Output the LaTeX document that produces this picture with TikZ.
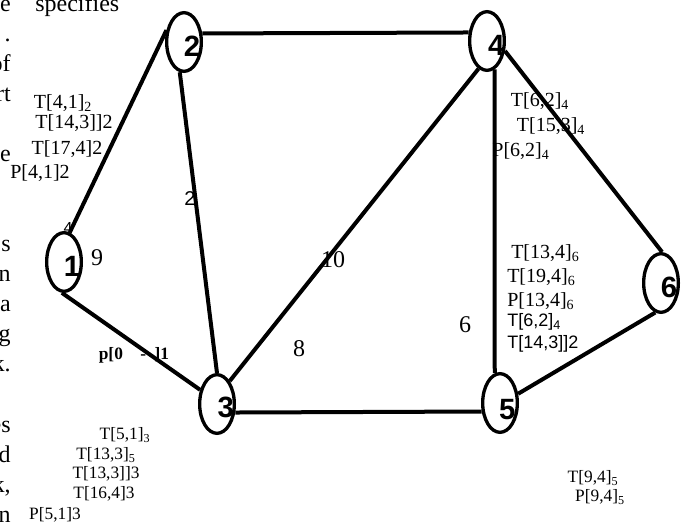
\documentclass[tikz,border=0pt]{standalone}
\usepackage{fontspec}
\setmainfont{Liberation Serif}
\setsansfont{Liberation Sans}
\usetikzlibrary{shapes.geometric}

\begin{document}
\begin{tikzpicture}[x=0.75pt, y=-0.75pt,
    vtx/.style={ellipse, draw, line width=2.5pt, minimum width=26pt,
                minimum height=44pt, inner sep=0pt},
    num/.style={font=\sffamily\bfseries\fontsize{22}{24}\selectfont, inner sep=0pt},
    link/.style={line width=3pt},
    wt/.style={font=\fontsize{18}{20}\selectfont, inner sep=0pt},
    tagL/.style={font=\fontsize{15}{17}\selectfont, inner sep=0pt},
    tagS/.style={font=\fontsize{13}{15}\selectfont, inner sep=0pt},
    tagF/.style={font=\sffamily\fontsize{13.5}{15}\selectfont, inner sep=0pt},
    body/.style={font=\fontsize{18}{20}\selectfont, inner sep=0pt}]

    \useasboundingbox (0,0) rectangle (682,527);
    \clip (0,0) rectangle (682,527);

    % ─────────── cut text on the left edge ─────────────────────────────
    \foreach \k/\w in {0/e, 1/., 2/of, 3/rt, 5/e, 8/s, 9/n, 10/a, 11/g,
                       12/k., 14/es, 15/d, 16/{k,}, 17/n}
      \node[body, anchor=base east] (m\k) at (11,{12+30*\k}) {\w};
    \node[body, anchor=base west] (spec) at (35,12) {specifies};

    % ─────────── vertices ──────────────────────────────────────────────
    \node[vtx, label={[num, xshift=6pt, yshift=-3pt]center:1}] (n1) at (64,262) {};
    \node[vtx, label={[num, xshift=6pt, yshift=-3pt]center:2}] (n2) at (184,42) {};
    \node[vtx, label={[num, xshift=6.5pt, yshift=-2.5pt]center:3}] (n3) at (217,404) {};
    \node[vtx, label={[num, xshift=7pt, yshift=-3pt]center:4}] (n4) at (487,41) {};
    \node[vtx, label={[num, xshift=5.5pt, yshift=-5pt]center:5}] (n5) at (500,403) {};
    \node[vtx, label={[num, xshift=6pt, yshift=-3.5pt]center:6}] (n6) at (661,283) {};

    % ─────────── weights ───────────────────────────────────────────────
    \node[font=\sffamily\fontsize{12}{13}\selectfont, inner sep=0pt] (w12) at (68,228) {4};
    \node[wt] (w13) at (97,258) {9};
    \node[font=\sffamily\fontsize{15}{17}\selectfont, inner sep=0pt] (w23) at (190,199) {2};
    \node[wt] (w34) at (333,260) {10};
    \node[wt] (w35) at (299,349) {8};
    \node[wt] (w45) at (465,325) {6};
    \node[font=\bfseries\fontsize{13}{15}\selectfont, inner sep=0pt] (p1) at (134,355)
         {p[0\quad-\ \ ]1};

    % ─────────── labels at 2 ───────────────────────────────────────────
    \node[tagL] (a1) at (63,103) {T[4,1]\textsubscript{2}};
    \node[tagL] (a2) at (74,123) {T[14,3]]2};
    \node[tagL] (a3) at (67,149) {T[17,4]2};
    \node[tagL] (a4) at (40,173) {P[4,1]2};

    % ─────────── labels at 3 ───────────────────────────────────────────
    \node[tagS] (b1) at (125,435) {T[5,1]\textsubscript{3}};
    \node[tagS] (b2) at (106,455) {T[13,3]\textsubscript{5}};
    \node[tagS] (b3) at (106,474) {T[13,3]]3};
    \node[tagS] (b4) at (104,494) {T[16,4]3};
    \node[tagS] (b5) at (55,515) {P[5,1]3};

    % ─────────── labels at 4 ───────────────────────────────────────────
    \node[tagL] (c1) at (540,101) {T[6,2]\textsubscript{4}};
    \node[tagL] (c2) at (551,126) {T[15,3]\textsubscript{4}};
    \node[tagL] (c3) at (521,151) {P[6,2]\textsubscript{4}};

    % ─────────── labels at 6 / 5 ───────────────────────────────────────
    \node[tagL, anchor=west] (d1) at (511,253) {T[13,4]\textsubscript{6}};
    \node[tagL, anchor=west] (d2) at (507,277) {T[19,4]\textsubscript{6}};
    \node[tagL, anchor=west] (d3) at (507,301) {P[13,4]\textsubscript{6}};
    \node[tagF, anchor=west] (d4) at (507,322) {T[6,2]\textsubscript{4}};
    \node[tagF, anchor=west] (d5) at (507,344) {T[14,3]]2};
    \node[tagS] (e1) at (593,478) {T[9,4]\textsubscript{5}};
    \node[tagS] (e2) at (600,497) {P[9,4]\textsubscript{5}};

    % ─────────── edges ─────────────────────────────────────────────────
    \draw[link] (n1.79) -- (n2.146);
    \draw[link] (n2.25) -- (n4.155);
    \draw[link] (n2.262) -- (n3.north);
    \draw[link] (n1.266) -- (n3.140);
    \draw[link] (n3.61) -- (n4.253);
    \draw[link] (n4.-75) -- (n5.100);
    \draw[link] (n4.-29) -- (n6.88);
    \draw[link] (n3.-25) -- (n5.205);
    \draw[link] (n5.27) -- (n6.-101);
  \end{tikzpicture}
\end{document}
